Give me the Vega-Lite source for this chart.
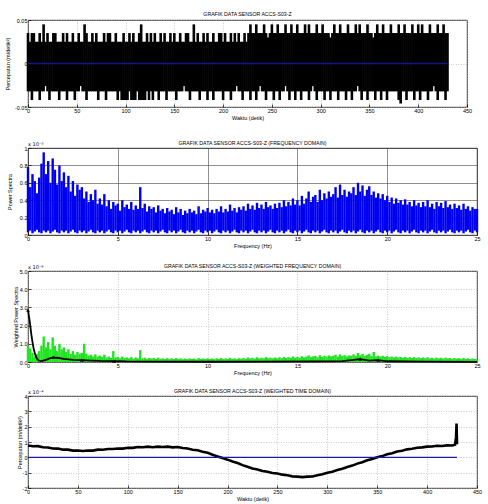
{
"$schema": "https://vega.github.io/schema/vega-lite/v6.json",
"padding": {"left": 5, "top": 11, "right": 5, "bottom": 2},
"datasets": {
"acc": [
{"t":0,"lo":-0.032,"hi":0.035},{"t":2,"lo":-0.032,"hi":0.025},{"t":4,"lo":-0.042,"hi":0.035},{"t":6,"lo":-0.032,"hi":0.035},{"t":8,"lo":-0.032,"hi":0.025},{"t":10,"lo":-0.032,"hi":0.025},{"t":12,"lo":-0.042,"hi":0.035},{"t":14,"lo":-0.032,"hi":0.025},{"t":16,"lo":-0.032,"hi":0.045},{"t":18,"lo":-0.026,"hi":0.025},{"t":20,"lo":-0.032,"hi":0.035},{"t":22,"lo":-0.042,"hi":0.025},{"t":24,"lo":-0.032,"hi":0.025},{"t":26,"lo":-0.032,"hi":0.035},{"t":28,"lo":-0.032,"hi":0.035},{"t":30,"lo":-0.032,"hi":0.025},{"t":32,"lo":-0.042,"hi":0.025},{"t":34,"lo":-0.032,"hi":0.025},{"t":36,"lo":-0.032,"hi":0.035},{"t":38,"lo":-0.032,"hi":0.025},{"t":40,"lo":-0.042,"hi":0.035},{"t":42,"lo":-0.032,"hi":0.025},{"t":44,"lo":-0.032,"hi":0.025},{"t":46,"lo":-0.032,"hi":0.035},{"t":48,"lo":-0.042,"hi":0.025},
{"t":50,"lo":-0.032,"hi":0.025},{"t":52,"lo":-0.032,"hi":0.035},{"t":54,"lo":-0.026,"hi":0.025},{"t":56,"lo":-0.032,"hi":0.025},{"t":58,"lo":-0.032,"hi":0.045},{"t":60,"lo":-0.042,"hi":0.035},{"t":62,"lo":-0.032,"hi":0.025},{"t":64,"lo":-0.032,"hi":0.025},{"t":66,"lo":-0.032,"hi":0.035},{"t":68,"lo":-0.032,"hi":0.025},{"t":70,"lo":-0.032,"hi":0.035},{"t":72,"lo":-0.042,"hi":0.025},{"t":74,"lo":-0.032,"hi":0.025},{"t":76,"lo":-0.032,"hi":0.025},{"t":78,"lo":-0.032,"hi":0.035},{"t":80,"lo":-0.042,"hi":0.025},{"t":82,"lo":-0.032,"hi":0.035},{"t":84,"lo":-0.032,"hi":0.035},{"t":86,"lo":-0.032,"hi":0.025},{"t":88,"lo":-0.032,"hi":0.025},{"t":90,"lo":-0.032,"hi":0.035},{"t":92,"lo":-0.042,"hi":0.025},{"t":94,"lo":-0.032,"hi":0.025},{"t":96,"lo":-0.042,"hi":0.025},{"t":98,"lo":-0.042,"hi":0.035},
{"t":100,"lo":-0.042,"hi":0.025},{"t":102,"lo":-0.042,"hi":0.025},{"t":104,"lo":-0.032,"hi":0.035},{"t":106,"lo":-0.042,"hi":0.025},{"t":108,"lo":-0.042,"hi":0.035},{"t":110,"lo":-0.042,"hi":0.025},{"t":112,"lo":-0.032,"hi":0.025},{"t":114,"lo":-0.042,"hi":0.035},{"t":116,"lo":-0.042,"hi":0.045},{"t":118,"lo":-0.042,"hi":0.025},{"t":120,"lo":-0.042,"hi":0.025},{"t":122,"lo":-0.032,"hi":0.035},{"t":124,"lo":-0.042,"hi":0.025},{"t":126,"lo":-0.032,"hi":0.035},{"t":128,"lo":-0.042,"hi":0.025},{"t":130,"lo":-0.032,"hi":0.035},{"t":132,"lo":-0.032,"hi":0.025},{"t":134,"lo":-0.042,"hi":0.025},{"t":136,"lo":-0.032,"hi":0.035},{"t":138,"lo":-0.032,"hi":0.025},{"t":140,"lo":-0.032,"hi":0.035},{"t":142,"lo":-0.042,"hi":0.025},{"t":144,"lo":-0.032,"hi":0.025},{"t":146,"lo":-0.032,"hi":0.035},{"t":148,"lo":-0.032,"hi":0.025},
{"t":150,"lo":-0.032,"hi":0.035},{"t":152,"lo":-0.042,"hi":0.025},{"t":154,"lo":-0.032,"hi":0.025},{"t":156,"lo":-0.032,"hi":0.035},{"t":158,"lo":-0.032,"hi":0.025},{"t":160,"lo":-0.026,"hi":0.025},{"t":162,"lo":-0.032,"hi":0.035},{"t":164,"lo":-0.032,"hi":0.035},{"t":166,"lo":-0.042,"hi":0.025},{"t":168,"lo":-0.032,"hi":0.025},{"t":170,"lo":-0.032,"hi":0.045},{"t":172,"lo":-0.032,"hi":0.025},{"t":174,"lo":-0.032,"hi":0.035},{"t":176,"lo":-0.042,"hi":0.025},{"t":178,"lo":-0.032,"hi":0.025},{"t":180,"lo":-0.032,"hi":0.035},{"t":182,"lo":-0.032,"hi":0.025},{"t":184,"lo":-0.042,"hi":0.035},{"t":186,"lo":-0.032,"hi":0.025},{"t":188,"lo":-0.032,"hi":0.025},{"t":190,"lo":-0.042,"hi":0.035},{"t":192,"lo":-0.032,"hi":0.025},{"t":194,"lo":-0.032,"hi":0.025},{"t":196,"lo":-0.032,"hi":0.035},{"t":198,"lo":-0.032,"hi":0.035},
{"t":200,"lo":-0.042,"hi":0.025},{"t":202,"lo":-0.032,"hi":0.035},{"t":204,"lo":-0.032,"hi":0.025},{"t":206,"lo":-0.032,"hi":0.025},{"t":208,"lo":-0.042,"hi":0.035},{"t":210,"lo":-0.032,"hi":0.025},{"t":212,"lo":-0.032,"hi":0.035},{"t":214,"lo":-0.026,"hi":0.025},{"t":216,"lo":-0.032,"hi":0.035},{"t":218,"lo":-0.032,"hi":0.025},{"t":220,"lo":-0.042,"hi":0.025},{"t":222,"lo":-0.032,"hi":0.035},{"t":224,"lo":-0.032,"hi":0.025},
{"t":226,"lo":-0.032,"hi":0.035},{"t":228,"lo":-0.042,"hi":0.045},{"t":230,"lo":-0.032,"hi":0.035},{"t":232,"lo":-0.032,"hi":0.035},{"t":234,"lo":-0.042,"hi":0.045},{"t":236,"lo":-0.032,"hi":0.035},{"t":238,"lo":-0.026,"hi":0.035},{"t":240,"lo":-0.032,"hi":0.035},{"t":242,"lo":-0.032,"hi":0.045},{"t":244,"lo":-0.042,"hi":0.035},{"t":246,"lo":-0.032,"hi":0.03},{"t":248,"lo":-0.032,"hi":0.035},{"t":250,"lo":-0.032,"hi":0.045},{"t":252,"lo":-0.042,"hi":0.035},{"t":254,"lo":-0.032,"hi":0.035},{"t":256,"lo":-0.032,"hi":0.045},{"t":258,"lo":-0.042,"hi":0.035},{"t":260,"lo":-0.032,"hi":0.035},{"t":262,"lo":-0.032,"hi":0.035},{"t":264,"lo":-0.026,"hi":0.045},{"t":266,"lo":-0.032,"hi":0.035},{"t":268,"lo":-0.042,"hi":0.035},{"t":270,"lo":-0.032,"hi":0.045},{"t":272,"lo":-0.032,"hi":0.035},{"t":274,"lo":-0.042,"hi":0.035},
{"t":276,"lo":-0.032,"hi":0.045},{"t":278,"lo":-0.032,"hi":0.035},{"t":280,"lo":-0.042,"hi":0.035},{"t":282,"lo":-0.032,"hi":0.035},{"t":284,"lo":-0.032,"hi":0.045},{"t":286,"lo":-0.032,"hi":0.035},{"t":288,"lo":-0.042,"hi":0.045},{"t":290,"lo":-0.032,"hi":0.035},{"t":292,"lo":-0.026,"hi":0.035},{"t":294,"lo":-0.032,"hi":0.035},{"t":296,"lo":-0.042,"hi":0.045},{"t":298,"lo":-0.032,"hi":0.035},{"t":300,"lo":-0.032,"hi":0.035},{"t":302,"lo":-0.032,"hi":0.045},{"t":304,"lo":-0.042,"hi":0.035},{"t":306,"lo":-0.032,"hi":0.035},{"t":308,"lo":-0.032,"hi":0.035},{"t":310,"lo":-0.042,"hi":0.03},{"t":312,"lo":-0.032,"hi":0.035},{"t":314,"lo":-0.032,"hi":0.045},{"t":316,"lo":-0.032,"hi":0.035},{"t":318,"lo":-0.042,"hi":0.035},{"t":320,"lo":-0.032,"hi":0.045},{"t":322,"lo":-0.032,"hi":0.035},{"t":324,"lo":-0.032,"hi":0.035},
{"t":326,"lo":-0.042,"hi":0.035},{"t":328,"lo":-0.032,"hi":0.045},{"t":330,"lo":-0.032,"hi":0.035},{"t":332,"lo":-0.042,"hi":0.035},{"t":334,"lo":-0.032,"hi":0.035},{"t":336,"lo":-0.032,"hi":0.045},{"t":338,"lo":-0.026,"hi":0.035},{"t":340,"lo":-0.032,"hi":0.045},{"t":342,"lo":-0.042,"hi":0.035},{"t":344,"lo":-0.032,"hi":0.035},{"t":346,"lo":-0.032,"hi":0.035},{"t":348,"lo":-0.042,"hi":0.045},{"t":350,"lo":-0.032,"hi":0.035},{"t":352,"lo":-0.032,"hi":0.035},{"t":354,"lo":-0.032,"hi":0.03},{"t":356,"lo":-0.042,"hi":0.035},{"t":358,"lo":-0.032,"hi":0.045},{"t":360,"lo":-0.032,"hi":0.035},{"t":362,"lo":-0.042,"hi":0.035},{"t":364,"lo":-0.032,"hi":0.045},{"t":366,"lo":-0.032,"hi":0.035},{"t":368,"lo":-0.042,"hi":0.035},{"t":370,"lo":-0.032,"hi":0.035},{"t":372,"lo":-0.032,"hi":0.045},{"t":374,"lo":-0.032,"hi":0.035},
{"t":376,"lo":-0.032,"hi":0.035},{"t":378,"lo":-0.032,"hi":0.035},{"t":380,"lo":-0.042,"hi":0.045},{"t":382,"lo":-0.046,"hi":0.035},{"t":384,"lo":-0.032,"hi":0.035},{"t":386,"lo":-0.032,"hi":0.045},{"t":388,"lo":-0.042,"hi":0.035},{"t":390,"lo":-0.032,"hi":0.035},{"t":392,"lo":-0.032,"hi":0.035},{"t":394,"lo":-0.032,"hi":0.045},{"t":396,"lo":-0.042,"hi":0.035},{"t":398,"lo":-0.032,"hi":0.035},{"t":400,"lo":-0.032,"hi":0.045},{"t":402,"lo":-0.042,"hi":0.035},{"t":404,"lo":-0.032,"hi":0.045},{"t":406,"lo":-0.032,"hi":0.035},{"t":408,"lo":-0.032,"hi":0.035},{"t":410,"lo":-0.042,"hi":0.035},{"t":412,"lo":-0.032,"hi":0.045},{"t":414,"lo":-0.032,"hi":0.035},{"t":416,"lo":-0.026,"hi":0.035},{"t":418,"lo":-0.032,"hi":0.035},{"t":420,"lo":-0.042,"hi":0.045},{"t":422,"lo":-0.032,"hi":0.035},{"t":424,"lo":-0.032,"hi":0.035},
{"t":426,"lo":-0.032,"hi":0.045},{"t":428,"lo":-0.042,"hi":0.035},{"t":430,"lo":-0.032,"hi":0.035}
],
"spec": [
{"f":0,"lo":0.03,"hi":0.78,"g":0.9},{"f":0.125,"lo":0.05,"hi":0.55,"g":0.75},{"f":0.25,"lo":0.02,"hi":0.7,"g":0.5},{"f":0.375,"lo":0.04,"hi":0.62,"g":0.3},{"f":0.5,"lo":0.06,"hi":0.48,"g":0.45},{"f":0.625,"lo":0.03,"hi":0.66,"g":0.6},{"f":0.75,"lo":0.02,"hi":0.82,"g":0.9},{"f":0.875,"lo":0.05,"hi":0.95,"g":1.4},
{"f":1,"lo":0.03,"hi":0.7,"g":0.8},{"f":1.125,"lo":0.05,"hi":0.85,"g":1.1},{"f":1.25,"lo":0.02,"hi":0.6,"g":0.7},{"f":1.375,"lo":0.04,"hi":0.88,"g":1.35},{"f":1.5,"lo":0.06,"hi":0.75,"g":0.9},{"f":1.625,"lo":0.03,"hi":0.58,"g":0.6},{"f":1.75,"lo":0.02,"hi":0.8,"g":1.0},{"f":1.875,"lo":0.05,"hi":0.62,"g":0.7},
{"f":2,"lo":0.03,"hi":0.72,"g":0.8},{"f":2.125,"lo":0.05,"hi":0.55,"g":0.55},{"f":2.25,"lo":0.02,"hi":0.68,"g":0.7},{"f":2.375,"lo":0.04,"hi":0.5,"g":0.45},{"f":2.5,"lo":0.06,"hi":0.62,"g":0.6},{"f":2.625,"lo":0.03,"hi":0.45,"g":0.4},{"f":2.75,"lo":0.02,"hi":0.58,"g":0.55},{"f":2.875,"lo":0.05,"hi":0.52,"g":0.45},
{"f":3,"lo":0.03,"hi":0.55,"g":0.5},{"f":3.125,"lo":0.05,"hi":0.42,"g":1.0},{"f":3.25,"lo":0.02,"hi":0.5,"g":0.45},{"f":3.375,"lo":0.04,"hi":0.38,"g":0.35},{"f":3.5,"lo":0.06,"hi":0.47,"g":0.4},{"f":3.625,"lo":0.03,"hi":0.4,"g":0.3},{"f":3.75,"lo":0.02,"hi":0.52,"g":0.42},{"f":3.875,"lo":0.05,"hi":0.36,"g":0.3},
{"f":4,"lo":0.03,"hi":0.42,"g":0.35},{"f":4.125,"lo":0.05,"hi":0.35,"g":0.28},{"f":4.25,"lo":0.02,"hi":0.47,"g":0.4},{"f":4.375,"lo":0.04,"hi":0.33,"g":0.25},{"f":4.5,"lo":0.06,"hi":0.4,"g":0.3},{"f":4.625,"lo":0.03,"hi":0.3,"g":0.22},{"f":4.75,"lo":0.02,"hi":0.38,"g":0.6},{"f":4.875,"lo":0.05,"hi":0.34,"g":0.25},
{"f":5,"lo":0.03,"hi":0.36,"g":0.28},{"f":5.125,"lo":0.05,"hi":0.28,"g":0.2},{"f":5.25,"lo":0.02,"hi":0.4,"g":0.3},{"f":5.375,"lo":0.04,"hi":0.32,"g":0.22},{"f":5.5,"lo":0.06,"hi":0.35,"g":0.25},{"f":5.625,"lo":0.03,"hi":0.3,"g":0.2},{"f":5.75,"lo":0.02,"hi":0.38,"g":0.27},{"f":5.875,"lo":0.05,"hi":0.29,"g":0.19},
{"f":6,"lo":0.03,"hi":0.34,"g":0.25},{"f":6.125,"lo":0.05,"hi":0.3,"g":0.2},{"f":6.25,"lo":0.02,"hi":0.55,"g":0.65},{"f":6.375,"lo":0.04,"hi":0.31,"g":0.2},{"f":6.5,"lo":0.06,"hi":0.36,"g":0.24},{"f":6.625,"lo":0.03,"hi":0.27,"g":0.18},{"f":6.75,"lo":0.02,"hi":0.33,"g":0.22},{"f":6.875,"lo":0.05,"hi":0.3,"g":0.2},
{"f":7,"lo":0.03,"hi":0.32,"g":0.22},{"f":7.125,"lo":0.05,"hi":0.26,"g":0.17},{"f":7.25,"lo":0.02,"hi":0.34,"g":0.24},{"f":7.375,"lo":0.04,"hi":0.28,"g":0.18},{"f":7.5,"lo":0.06,"hi":0.3,"g":0.2},{"f":7.625,"lo":0.03,"hi":0.25,"g":0.16},{"f":7.75,"lo":0.02,"hi":0.31,"g":0.21},{"f":7.875,"lo":0.05,"hi":0.27,"g":0.17},
{"f":8,"lo":0.03,"hi":0.29,"g":0.2},{"f":8.125,"lo":0.05,"hi":0.24,"g":0.16},{"f":8.25,"lo":0.02,"hi":0.32,"g":0.22},{"f":8.375,"lo":0.04,"hi":0.26,"g":0.17},{"f":8.5,"lo":0.06,"hi":0.3,"g":0.2},{"f":8.625,"lo":0.03,"hi":0.23,"g":0.15},{"f":8.75,"lo":0.02,"hi":0.28,"g":0.19},{"f":8.875,"lo":0.05,"hi":0.25,"g":0.16},
{"f":9,"lo":0.03,"hi":0.3,"g":0.2},{"f":9.125,"lo":0.05,"hi":0.26,"g":0.17},{"f":9.25,"lo":0.02,"hi":0.28,"g":0.19},{"f":9.375,"lo":0.04,"hi":0.24,"g":0.15},{"f":9.5,"lo":0.06,"hi":0.33,"g":0.22},{"f":9.625,"lo":0.03,"hi":0.25,"g":0.16},{"f":9.75,"lo":0.02,"hi":0.29,"g":0.19},{"f":9.875,"lo":0.05,"hi":0.27,"g":0.17},
{"f":10,"lo":0.03,"hi":0.31,"g":0.2},{"f":10.125,"lo":0.05,"hi":0.26,"g":0.16},{"f":10.25,"lo":0.02,"hi":0.29,"g":0.19},{"f":10.375,"lo":0.04,"hi":0.25,"g":0.16},{"f":10.5,"lo":0.06,"hi":0.3,"g":0.2},{"f":10.625,"lo":0.03,"hi":0.27,"g":0.17},{"f":10.75,"lo":0.02,"hi":0.33,"g":0.22},{"f":10.875,"lo":0.05,"hi":0.26,"g":0.16},
{"f":11,"lo":0.03,"hi":0.3,"g":0.2},{"f":11.125,"lo":0.05,"hi":0.27,"g":0.17},{"f":11.25,"lo":0.02,"hi":0.35,"g":0.23},{"f":11.375,"lo":0.04,"hi":0.28,"g":0.18},{"f":11.5,"lo":0.06,"hi":0.31,"g":0.2},{"f":11.625,"lo":0.03,"hi":0.26,"g":0.16},{"f":11.75,"lo":0.02,"hi":0.32,"g":0.21},{"f":11.875,"lo":0.05,"hi":0.29,"g":0.18},
{"f":12,"lo":0.03,"hi":0.33,"g":0.22},{"f":12.125,"lo":0.05,"hi":0.28,"g":0.18},{"f":12.25,"lo":0.02,"hi":0.36,"g":0.25},{"f":12.375,"lo":0.04,"hi":0.3,"g":0.2},{"f":12.5,"lo":0.06,"hi":0.34,"g":0.23},{"f":12.625,"lo":0.03,"hi":0.29,"g":0.19},{"f":12.75,"lo":0.02,"hi":0.37,"g":0.26},{"f":12.875,"lo":0.05,"hi":0.31,"g":0.2},
{"f":13,"lo":0.03,"hi":0.35,"g":0.24},{"f":13.125,"lo":0.05,"hi":0.3,"g":0.2},{"f":13.25,"lo":0.02,"hi":0.38,"g":0.27},{"f":13.375,"lo":0.04,"hi":0.32,"g":0.21},{"f":13.5,"lo":0.06,"hi":0.34,"g":0.24},{"f":13.625,"lo":0.03,"hi":0.3,"g":0.2},{"f":13.75,"lo":0.02,"hi":0.36,"g":0.25},{"f":13.875,"lo":0.05,"hi":0.31,"g":0.21},
{"f":14,"lo":0.03,"hi":0.37,"g":0.26},{"f":14.125,"lo":0.05,"hi":0.32,"g":0.21},{"f":14.25,"lo":0.02,"hi":0.4,"g":0.28},{"f":14.375,"lo":0.04,"hi":0.33,"g":0.22},{"f":14.5,"lo":0.06,"hi":0.38,"g":0.27},{"f":14.625,"lo":0.03,"hi":0.34,"g":0.23},{"f":14.75,"lo":0.02,"hi":0.42,"g":0.3},{"f":14.875,"lo":0.05,"hi":0.35,"g":0.24},
{"f":15,"lo":0.03,"hi":0.4,"g":0.28},{"f":15.125,"lo":0.05,"hi":0.34,"g":0.23},{"f":15.25,"lo":0.02,"hi":0.45,"g":0.32},{"f":15.375,"lo":0.04,"hi":0.36,"g":0.25},{"f":15.5,"lo":0.06,"hi":0.42,"g":0.3},{"f":15.625,"lo":0.03,"hi":0.5,"g":0.36},{"f":15.75,"lo":0.02,"hi":0.38,"g":0.27},{"f":15.875,"lo":0.05,"hi":0.44,"g":0.31},
{"f":16,"lo":0.03,"hi":0.46,"g":0.33},{"f":16.125,"lo":0.05,"hi":0.38,"g":0.26},{"f":16.25,"lo":0.02,"hi":0.52,"g":0.37},{"f":16.375,"lo":0.04,"hi":0.4,"g":0.28},{"f":16.5,"lo":0.06,"hi":0.48,"g":0.34},{"f":16.625,"lo":0.03,"hi":0.42,"g":0.3},{"f":16.75,"lo":0.02,"hi":0.5,"g":0.36},{"f":16.875,"lo":0.05,"hi":0.44,"g":0.31},
{"f":17,"lo":0.03,"hi":0.47,"g":0.34},{"f":17.125,"lo":0.05,"hi":0.55,"g":0.4},{"f":17.25,"lo":0.02,"hi":0.43,"g":0.3},{"f":17.375,"lo":0.04,"hi":0.58,"g":0.42},{"f":17.5,"lo":0.06,"hi":0.46,"g":0.33},{"f":17.625,"lo":0.03,"hi":0.52,"g":0.38},{"f":17.75,"lo":0.02,"hi":0.44,"g":0.31},{"f":17.875,"lo":0.05,"hi":0.5,"g":0.36},
{"f":18,"lo":0.03,"hi":0.48,"g":0.35},{"f":18.125,"lo":0.05,"hi":0.55,"g":0.42},{"f":18.25,"lo":0.02,"hi":0.46,"g":0.34},{"f":18.375,"lo":0.04,"hi":0.6,"g":0.5},{"f":18.5,"lo":0.06,"hi":0.5,"g":0.37},{"f":18.625,"lo":0.03,"hi":0.57,"g":0.44},{"f":18.75,"lo":0.02,"hi":0.45,"g":0.33},{"f":18.875,"lo":0.05,"hi":0.52,"g":0.4},
{"f":19,"lo":0.03,"hi":0.56,"g":0.45},{"f":19.125,"lo":0.05,"hi":0.46,"g":0.33},{"f":19.25,"lo":0.02,"hi":0.5,"g":0.55},{"f":19.375,"lo":0.04,"hi":0.43,"g":0.31},{"f":19.5,"lo":0.06,"hi":0.48,"g":0.35},{"f":19.625,"lo":0.03,"hi":0.42,"g":0.3},{"f":19.75,"lo":0.02,"hi":0.47,"g":0.34},{"f":19.875,"lo":0.05,"hi":0.4,"g":0.28},
{"f":20,"lo":0.03,"hi":0.45,"g":0.32},{"f":20.125,"lo":0.05,"hi":0.38,"g":0.26},{"f":20.25,"lo":0.02,"hi":0.43,"g":0.3},{"f":20.375,"lo":0.04,"hi":0.36,"g":0.25},{"f":20.5,"lo":0.06,"hi":0.42,"g":0.29},{"f":20.625,"lo":0.03,"hi":0.37,"g":0.25},{"f":20.75,"lo":0.02,"hi":0.4,"g":0.28},{"f":20.875,"lo":0.05,"hi":0.35,"g":0.24},
{"f":21,"lo":0.03,"hi":0.41,"g":0.28},{"f":21.125,"lo":0.05,"hi":0.35,"g":0.23},{"f":21.25,"lo":0.02,"hi":0.38,"g":0.26},{"f":21.375,"lo":0.04,"hi":0.33,"g":0.22},{"f":21.5,"lo":0.06,"hi":0.4,"g":0.27},{"f":21.625,"lo":0.03,"hi":0.34,"g":0.22},{"f":21.75,"lo":0.02,"hi":0.37,"g":0.25},{"f":21.875,"lo":0.05,"hi":0.32,"g":0.21},
{"f":22,"lo":0.03,"hi":0.38,"g":0.25},{"f":22.125,"lo":0.05,"hi":0.33,"g":0.21},{"f":22.25,"lo":0.02,"hi":0.4,"g":0.26},{"f":22.375,"lo":0.04,"hi":0.32,"g":0.2},{"f":22.5,"lo":0.06,"hi":0.36,"g":0.23},{"f":22.625,"lo":0.03,"hi":0.3,"g":0.19},{"f":22.75,"lo":0.02,"hi":0.38,"g":0.24},{"f":22.875,"lo":0.05,"hi":0.33,"g":0.2},
{"f":23,"lo":0.03,"hi":0.37,"g":0.23},{"f":23.125,"lo":0.05,"hi":0.31,"g":0.19},{"f":23.25,"lo":0.02,"hi":0.39,"g":0.24},{"f":23.375,"lo":0.04,"hi":0.32,"g":0.2},{"f":23.5,"lo":0.06,"hi":0.35,"g":0.22},{"f":23.625,"lo":0.03,"hi":0.3,"g":0.18},{"f":23.75,"lo":0.02,"hi":0.36,"g":0.22},{"f":23.875,"lo":0.05,"hi":0.31,"g":0.19},
{"f":24,"lo":0.03,"hi":0.34,"g":0.21},{"f":24.125,"lo":0.05,"hi":0.29,"g":0.17},{"f":24.25,"lo":0.02,"hi":0.36,"g":0.22},{"f":24.375,"lo":0.04,"hi":0.3,"g":0.18},{"f":24.5,"lo":0.06,"hi":0.33,"g":0.2},{"f":24.625,"lo":0.03,"hi":0.28,"g":0.16},{"f":24.75,"lo":0.02,"hi":0.32,"g":0.19},{"f":24.875,"lo":0.05,"hi":0.3,"g":0.17},
{"f":25,"lo":0.03,"hi":0.3,"g":0.15}
],
"wline": [
{"f":0,"w":2.85,"mk":1},{"f":0.1,"w":2.2,"mk":0},{"f":0.2,"w":1.4,"mk":0},{"f":0.3,"w":0.8,"mk":0},{"f":0.4,"w":0.4,"mk":0},{"f":0.5,"w":0.18,"mk":0},{"f":0.6,"w":0.08,"mk":0},{"f":0.7,"w":0.05,"mk":0},{"f":0.8,"w":0.06,"mk":0},{"f":1.0,"w":0.12,"mk":0},{"f":1.2,"w":0.2,"mk":0},{"f":1.4,"w":0.25,"mk":1},{"f":1.7,"w":0.22,"mk":0},{"f":2.0,"w":0.17,"mk":0},{"f":2.5,"w":0.12,"mk":0},{"f":3.0,"w":0.1,"mk":1},{"f":3.5,"w":0.08,"mk":0},{"f":4.0,"w":0.06,"mk":0},{"f":4.8,"w":0.05,"mk":1},{"f":5.5,"w":0.03,"mk":0},{"f":7,"w":0.02,"mk":0},{"f":10,"w":0.015,"mk":0},{"f":13,"w":0.02,"mk":0},{"f":16,"w":0.03,"mk":0},{"f":17.5,"w":0.05,"mk":0},{"f":18,"w":0.1,"mk":0},{"f":18.5,"w":0.16,"mk":1},{"f":19,"w":0.08,"mk":0},{"f":19.5,"w":0.1,"mk":1},{"f":20,"w":0.04,"mk":0},{"f":22,"w":0.02,"mk":0},{"f":25,"w":0.01,"mk":0}
],
"wtd": [
{"t":0,"a":0.77},{"t":5,"a":0.72},{"t":10,"a":0.73},{"t":15,"a":0.66},{"t":20,"a":0.64},{"t":25,"a":0.58},{"t":30,"a":0.57},{"t":35,"a":0.5},{"t":40,"a":0.5},{"t":45,"a":0.44},{"t":50,"a":0.45},{"t":55,"a":0.41},{"t":60,"a":0.45},{"t":65,"a":0.44},{"t":70,"a":0.5},{"t":75,"a":0.49},{"t":80,"a":0.54},{"t":85,"a":0.54},{"t":90,"a":0.58},{"t":95,"a":0.57},{"t":100,"a":0.62},{"t":105,"a":0.62},{"t":110,"a":0.67},{"t":115,"a":0.66},{"t":120,"a":0.7},{"t":125,"a":0.66},{"t":130,"a":0.7},{"t":135,"a":0.67},{"t":140,"a":0.7},{"t":145,"a":0.65},{"t":150,"a":0.67},{"t":155,"a":0.61},{"t":160,"a":0.58},{"t":165,"a":0.5},{"t":170,"a":0.46},{"t":175,"a":0.37},{"t":180,"a":0.3},{"t":185,"a":0.17},{"t":190,"a":0.06},{"t":195,"a":-0.05},{"t":200,"a":-0.15},{"t":205,"a":-0.27},{"t":210,"a":-0.37},{"t":215,"a":-0.51},{"t":220,"a":-0.61},{"t":225,"a":-0.73},{"t":230,"a":-0.79},{"t":235,"a":-0.89},{"t":240,"a":-0.94},{"t":245,"a":-1.02},{"t":250,"a":-1.05},{"t":255,"a":-1.13},{"t":260,"a":-1.17},{"t":265,"a":-1.24},{"t":270,"a":-1.26},{"t":275,"a":-1.29},{"t":280,"a":-1.26},{"t":285,"a":-1.25},{"t":290,"a":-1.17},{"t":295,"a":-1.11},{"t":300,"a":-1.01},{"t":305,"a":-0.94},{"t":310,"a":-0.83},{"t":315,"a":-0.75},{"t":320,"a":-0.63},{"t":325,"a":-0.54},{"t":330,"a":-0.41},{"t":335,"a":-0.32},{"t":340,"a":-0.19},{"t":345,"a":-0.11},{"t":350,"a":0.01},{"t":355,"a":0.08},{"t":360,"a":0.2},{"t":365,"a":0.27},{"t":370,"a":0.38},{"t":375,"a":0.43},{"t":380,"a":0.52},{"t":385,"a":0.56},{"t":390,"a":0.63},{"t":395,"a":0.65},{"t":400,"a":0.7},{"t":405,"a":0.71},{"t":410,"a":0.75},{"t":415,"a":0.74},{"t":420,"a":0.78},{"t":425,"a":0.77},{"t":428,"a":0.82},{"t":429,"a":1.3},{"t":429.5,"a":2.2},{"t":430,"a":0.85}
],
"zero": [{"x0":0,"x1":430,"y":0}]
},
"concat": [
{"spacing": 18, "vconcat": [
{
"width": 439, "height": 87,
"title": {"text": "GRAFIK DATA SENSOR ACCS-S03-Z", "offset": 1},
"layer": [
{"data": {"name": "acc"}, "mark": {"type": "rule", "color": "#000", "strokeWidth": 2.6},
 "encoding": {
  "x": {"field": "t", "type": "quantitative", "scale": {"domain": [0, 450], "nice": false}, "axis": {"values": [0,50,100,150,200,250,300,350,400,450], "tickCount": 30, "title": "Waktu (detik)", "grid": true, "labelOverlap": false, "labelExpr": "'' + datum.value"}},
  "y": {"field": "lo", "type": "quantitative", "scale": {"domain": [-0.05, 0.05], "nice": false, "zero": false}, "axis": {"values": [-0.05, 0, 0.05], "tickCount": 30, "title": "Percepatan (m/detik²)", "grid": true, "labelOverlap": false, "titlePadding": 4, "labelExpr": "'' + datum.value"}},
  "y2": {"field": "hi"}}},
{"data": {"name": "zero"}, "mark": {"type": "rule", "color": "#14148c", "strokeWidth": 1.5},
 "encoding": {"x": {"field": "x0", "type": "quantitative", "title": "Waktu (detik)"}, "x2": {"field": "x1"}, "y": {"field": "y", "type": "quantitative", "title": "Percepatan (m/detik²)"}}}
]
},
{
"width": 449, "height": 87,
"title": {"text": "GRAFIK DATA SENSOR ACCS-S03-Z (FREQUENCY DOMAIN)", "offset": -4},
"layer": [
{"data": {"name": "spec"}, "mark": {"type": "rule", "color": "#0000f0", "strokeWidth": 2.4},
 "encoding": {
  "x": {"field": "f", "type": "quantitative", "scale": {"domain": [0, 25], "nice": false}, "axis": {"values": [0, 5, 10, 15, 20, 25], "tickCount": 30, "title": "Frequency (Hz)", "grid": true, "gridColor": "#444", "gridDash": [], "labelOverlap": false, "labelExpr": "'' + datum.value"}},
  "y": {"field": "lo", "type": "quantitative", "scale": {"domain": [0, 1], "nice": false}, "axis": {"values": [0, 0.2, 0.4, 0.6, 0.8, 1], "tickCount": 30, "title": "Power Spectra", "grid": true, "gridColor": "#444", "gridDash": [], "labelOverlap": false, "titlePadding": 7, "labelExpr": "'' + datum.value"}},
  "y2": {"field": "hi"}}},
{"data": {"values": [{"x": 0, "y": 1, "s": "x 10⁻⁵"}]}, "mark": {"type": "text", "align": "left", "baseline": "bottom", "dy": -1, "fontSize": 5, "font": "DejaVu Sans"},
 "encoding": {"x": {"field": "x", "type": "quantitative", "title": "Frequency (Hz)"}, "y": {"field": "y", "type": "quantitative", "title": "Power Spectra"}, "text": {"field": "s"}}}
]
}
]},
{"spacing": 11, "vconcat": [
{
"width": 449, "height": 91,
"title": {"text": "GRAFIK DATA SENSOR ACCS-S03-Z (WEIGHTED FREQUENCY DOMAIN)", "offset": -4},
"layer": [
{"data": {"name": "spec"}, "mark": {"type": "rule", "color": "#1ee61e", "strokeWidth": 2.4},
 "encoding": {
  "x": {"field": "f", "type": "quantitative", "scale": {"domain": [0, 25], "nice": false}, "axis": {"values": [0, 5, 10, 15, 20, 25], "tickCount": 30, "title": "Frequency (Hz)", "grid": true, "labelOverlap": false}},
  "y": {"field": "g", "type": "quantitative", "scale": {"domain": [0, 5], "nice": false}, "axis": {"values": [0, 1, 2, 3, 4, 5], "tickCount": 30, "title": "Weighted Power Spectra", "grid": true, "labelOverlap": false, "titlePadding": 1}},
  "y2": {"datum": 0}}},
{"data": {"name": "wline"}, "mark": {"type": "line", "color": "#000", "strokeWidth": 1.8},
 "encoding": {"x": {"field": "f", "type": "quantitative", "title": "Frequency (Hz)"}, "y": {"field": "w", "type": "quantitative", "title": "Weighted Power Spectra"}}},
{"data": {"name": "wline"}, "transform": [{"filter": "datum.mk == 1"}], "mark": {"type": "point", "shape": "triangle-up", "filled": true, "color": "#000", "size": 14, "opacity": 1},
 "encoding": {"x": {"field": "f", "type": "quantitative", "title": "Frequency (Hz)"}, "y": {"field": "w", "type": "quantitative", "title": "Weighted Power Spectra"}}},
{"data": {"values": [{"x": 0, "y": 5, "s": "x 10⁻⁶"}]}, "mark": {"type": "text", "align": "left", "baseline": "bottom", "dy": -1, "fontSize": 5, "font": "DejaVu Sans"},
 "encoding": {"x": {"field": "x", "type": "quantitative", "title": "Frequency (Hz)"}, "y": {"field": "y", "type": "quantitative", "title": "Weighted Power Spectra"}, "text": {"field": "s"}}}
]
},
{
"width": 449, "height": 92,
"title": {"text": "GRAFIK DATA SENSOR ACCS-S03-Z (WEIGHTED TIME DOMAIN)", "offset": -4},
"layer": [
{"data": {"name": "wtd"}, "mark": {"type": "line", "color": "#000", "strokeWidth": 2.6},
 "encoding": {
  "x": {"field": "t", "type": "quantitative", "scale": {"domain": [0, 450], "nice": false}, "axis": {"values": [0,50,100,150,200,250,300,350,400,450], "tickCount": 30, "title": "Waktu (detik)", "grid": true, "labelOverlap": false}},
  "y": {"field": "a", "type": "quantitative", "scale": {"domain": [-2, 4], "nice": false}, "axis": {"values": [-2, -1, 0, 1, 2, 3, 4], "tickCount": 30, "title": "Percepatan (m/detik²)", "grid": true, "labelOverlap": false, "titlePadding": 0, "labelExpr": "'' + datum.value"}}}},
{"data": {"name": "zero"}, "mark": {"type": "rule", "color": "#1a1aa0", "strokeWidth": 1.3},
 "encoding": {"x": {"field": "x0", "type": "quantitative", "title": "Waktu (detik)"}, "x2": {"field": "x1"}, "y": {"field": "y", "type": "quantitative", "title": "Percepatan (m/detik²)"}}},
{"data": {"values": [{"x": 0, "y": 4, "s": "x 10⁻⁴"}]}, "mark": {"type": "text", "align": "left", "baseline": "bottom", "dy": -1, "fontSize": 5, "font": "DejaVu Sans"},
 "encoding": {"x": {"field": "x", "type": "quantitative", "title": "Waktu (detik)"}, "y": {"field": "y", "type": "quantitative", "title": "Percepatan (m/detik²)"}, "text": {"field": "s"}}}
]
}
]}
],
"columns": 1,
"align": "none",
"spacing": 13,
"config": {
 "font": "Liberation Sans",
 "background": "#ffffff",
 "view": {"stroke": "#000", "strokeWidth": 0.8},
 "axis": {"labelFontSize": 5.5, "titleFontSize": 5.5, "titleFontWeight": "normal", "labelColor": "#000", "titleColor": "#000", "domain": false, "tickColor": "#000", "tickSize": -3, "tickWidth": 0.7, "labelPadding": 4, "gridColor": "#aaa", "gridDash": [1, 1.5], "gridWidth": 0.6, "minExtent": 0, "labelFlush": false, "labelOverlap": false, "titlePadding": 2},
 "title": {"fontSize": 5.2, "fontWeight": "normal", "color": "#000", "offset": 3, "frame": "group"},
 "text": {"font": "Liberation Sans", "color": "#000"}
}
}
